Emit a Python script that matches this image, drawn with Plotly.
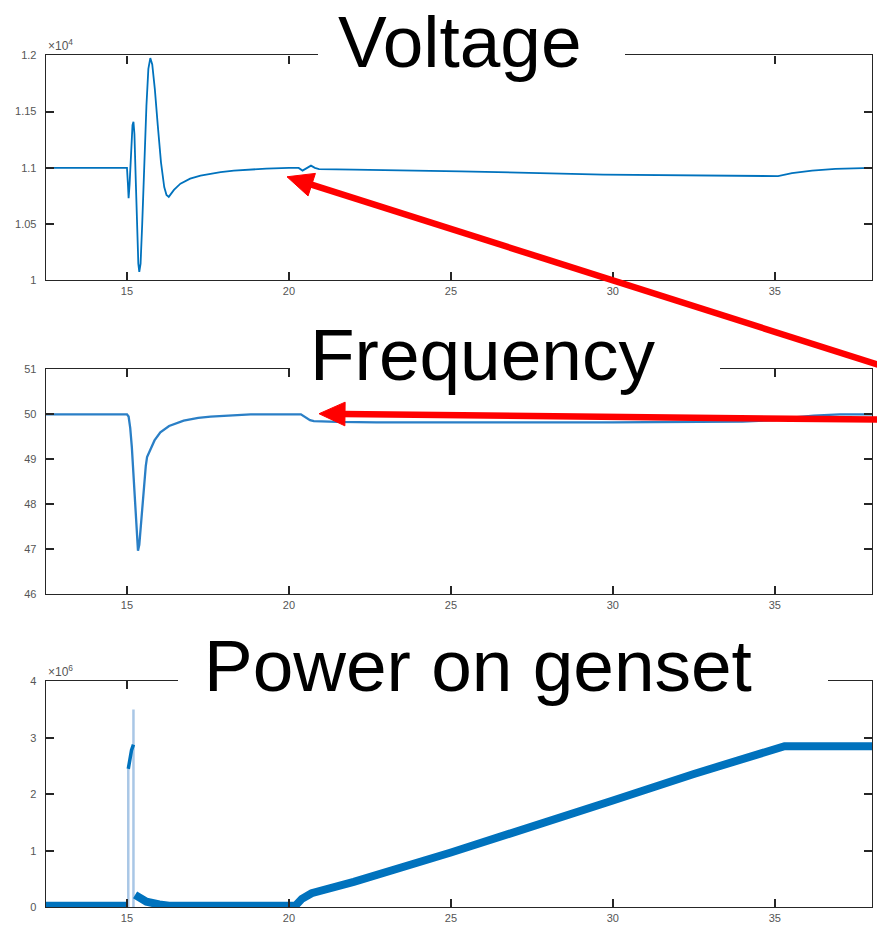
import math
import plotly.graph_objects as go

# ---------------- data ----------------
volt_t = [12.5, 15.0, 15.03, 15.05, 15.08, 15.12, 15.17, 15.2, 15.23, 15.27, 15.31, 15.35,
          15.38, 15.42, 15.47, 15.53, 15.6, 15.66, 15.72, 15.78, 15.86, 15.95, 16.05, 16.15,
          16.22, 16.29, 16.35, 16.45, 16.65, 16.95, 17.27, 17.6, 17.89, 18.3, 18.8, 19.3,
          20.0, 20.3, 20.42, 20.55, 20.68, 20.8, 20.93, 22.0, 25.3, 29.7, 31.8, 35.1, 35.53,
          36.15, 36.87, 38.0]
volt_v = [11000, 11000, 10850, 10730, 10850, 11150, 11380, 11410, 11300, 10900, 10450, 10150,
          10076, 10150, 10500, 11000, 11550, 11880, 11976, 11920, 11700, 11380, 11050, 10830,
          10760, 10743, 10765, 10805, 10860, 10905, 10932, 10950, 10962, 10975, 10986, 10994,
          11000, 11000, 10976, 11000, 11020, 11000, 10990, 10985, 10970, 10941, 10936, 10927,
          10953, 10976, 10991, 11000]

freq_t = [12.5, 15.0, 15.05, 15.1, 15.15, 15.2, 15.26, 15.3, 15.34, 15.38, 15.42, 15.46,
          15.52, 15.58, 15.62, 15.72, 15.85, 16.03, 16.3, 16.75, 17.2, 17.58, 18.2, 18.82,
          20.37, 20.5, 20.65, 20.77, 21.5, 22.7, 30.0, 34.0, 35.0, 35.6, 36.2, 37.0, 38.0]
freq_v = [50.0, 50.0, 49.95, 49.7, 49.27, 48.7, 47.81, 47.3, 46.97, 47.1, 47.45, 47.82,
          48.4, 48.85, 49.05, 49.2, 49.42, 49.6, 49.74, 49.86, 49.92, 49.95, 49.98, 50.0,
          50.0, 49.93, 49.87, 49.85, 49.83, 49.82, 49.82, 49.84, 49.87, 49.93, 49.97, 50.0, 50.0]

pow_t = [12.5, 15.0, None, 15.25, 15.4, 15.6, 16.0, 16.3,
         20.2, 20.4, 20.7, 22.0, 25.0, 27.5, 30.0, 32.5, 35.0, 35.3, 38.0]
pow_v = [0.03e6, 0.03e6, None, 0.22e6, 0.15e6, 0.1e6, 0.05e6, 0.03e6,
         0.03e6, 0.15e6, 0.25e6, 0.45e6, 0.97e6, 1.42e6, 1.89e6, 2.36e6, 2.83e6, 2.85e6, 2.85e6]

pulse_t = [15.04, 15.09, 15.14, 15.2]
pulse_v = [2.45e6, 2.65e6, 2.78e6, 2.88e6]

spike_t = [15.04, 15.04, None, 15.2, 15.2]
spike_v = [0.0, 2.45e6, None, 3.5e6, 0.0]

x_ticks = [15, 20, 25, 30, 35]
volt_ticks = [10000, 10500, 11000, 11500, 12000]
volt_ticktext = ["1", "1.05", "1.1", "1.15", "1.2"]
freq_ticks = [46, 47, 48, 49, 50, 51]
freq_ticktext = ["46", "47", "48", "49", "50", "51"]
pow_ticks = [0, 1e6, 2e6, 3e6, 4e6]
pow_ticktext = ["0", "1", "2", "3", "4"]

titles = ["Voltage", "Frequency", "Power on genset"]

# ---------------- figure ----------------
W, H = 877, 939
BLUE = "#0072BD"
AX = "#262626"
LBL = "#555555"
FONT = "Liberation Sans, Arial, sans-serif"
PAD = "\u00a0\u00a0"

fig = go.Figure()

fig.add_trace(go.Scatter(x=volt_t, y=volt_v, mode="lines", xaxis="x", yaxis="y",
                         line=dict(color=BLUE, width=1.8), showlegend=False))
fig.add_trace(go.Scatter(x=freq_t, y=freq_v, mode="lines", xaxis="x2", yaxis="y2",
                         line=dict(color="#2a7fc6", width=2.3), showlegend=False))
fig.add_trace(go.Scatter(x=spike_t, y=spike_v, mode="lines", xaxis="x3", yaxis="y3",
                         line=dict(color="#a9c7e6", width=2.5), showlegend=False))
fig.add_trace(go.Scatter(x=pulse_t, y=pulse_v, mode="lines", xaxis="x3", yaxis="y3",
                         line=dict(color=BLUE, width=3.5), showlegend=False))
fig.add_trace(go.Scatter(x=pow_t, y=pow_v, mode="lines", xaxis="x3", yaxis="y3",
                         line=dict(color=BLUE, width=8), showlegend=False))

def px_x(p):
    return p / W

def px_y(p):
    return 1 - p / H

L, R = 46, 872
boxes = [(50, 278), (368, 596), (684, 913)]

common_x = dict(range=[12.5, 38], tickmode="array", tickvals=x_ticks, ticks="inside",
                ticklen=8, tickwidth=2, tickcolor=AX, showline=True, linecolor=AX,
                linewidth=1.4, mirror="ticks", showgrid=False, zeroline=False,
                domain=[px_x(L), px_x(R)],
                tickfont=dict(family=FONT, size=11, color=LBL))
common_y = dict(tickmode="array", ticks="inside", ticklen=8, tickwidth=2, tickcolor=AX,
                showline=True, linecolor=AX, linewidth=1.4, mirror="ticks", showgrid=False,
                zeroline=False, tickfont=dict(family=FONT, size=11, color=LBL))

fig.update_layout(
    width=W, height=H, margin=dict(l=0, r=0, t=0, b=0),
    paper_bgcolor="white", plot_bgcolor="white",
    xaxis=dict(common_x, anchor="y"),
    xaxis2=dict(common_x, anchor="y2"),
    xaxis3=dict(common_x, anchor="y3"),
    yaxis=dict(common_y, anchor="x", range=[10000, 12000], tickvals=volt_ticks,
               ticktext=[t + PAD for t in volt_ticktext],
               domain=[px_y(boxes[0][1]), px_y(boxes[0][0])]),
    yaxis2=dict(common_y, anchor="x2", range=[46, 51], tickvals=freq_ticks,
                ticktext=[t + PAD for t in freq_ticktext],
                domain=[px_y(boxes[1][1]), px_y(boxes[1][0])]),
    yaxis3=dict(common_y, anchor="x3", range=[0, 4e6], tickvals=pow_ticks,
                ticktext=[t + PAD for t in pow_ticktext],
                domain=[px_y(boxes[2][1]), px_y(boxes[2][0])]),
)

shapes = []
# white gaps in top axis lines behind titles
gaps = [(318, 625), (290, 720), (178, 828)]
for (g0, g1), (top, _) in zip(gaps, boxes):
    shapes.append(dict(type="rect", xref="paper", yref="paper",
                       x0=px_x(g0), x1=px_x(g1), y0=px_y(top + 10), y1=px_y(top - 4),
                       fillcolor="white", line=dict(width=0), layer="above"))

# red arrows (drawn as line + triangular head)
RED = "#ff0000"
HEAD_LEN, HEAD_HALF, SHAFT = 26, 12, 6.5
for (hx, hy), (tx, ty) in [((287, 173), (880, 364)), ((319, 413), (880, 419))]:
    dx, dy = hx - tx, hy - ty
    ln = math.hypot(dx, dy)
    ux, uy = dx / ln, dy / ln
    bx, by = hx - HEAD_LEN * ux, hy - HEAD_LEN * uy
    nx, ny = -uy, ux
    shapes.append(dict(type="line", xref="paper", yref="paper",
                       x0=px_x(tx), y0=px_y(ty), x1=px_x(bx + 2 * ux), y1=px_y(by + 2 * uy),
                       line=dict(color=RED, width=SHAFT), layer="above"))
    c1 = (bx + HEAD_HALF * nx, by + HEAD_HALF * ny)
    c2 = (bx - HEAD_HALF * nx, by - HEAD_HALF * ny)
    path = "M {} {} L {} {} L {} {} Z".format(px_x(hx), px_y(hy), px_x(c1[0]), px_y(c1[1]),
                                              px_x(c2[0]), px_y(c2[1]))
    shapes.append(dict(type="path", xref="paper", yref="paper", path=path,
                       fillcolor=RED, line=dict(color=RED, width=1), layer="above"))
fig.update_layout(shapes=shapes)

annotations = []
title_pos = [(460, 36), (482, 353), (478, 668)]
for t, (cx, cy) in zip(titles, title_pos):
    annotations.append(dict(text=t, xref="paper", yref="paper", x=px_x(cx), y=px_y(cy),
                            xanchor="center", yanchor="middle", showarrow=False,
                            font=dict(family=FONT, size=73, color="black")))
for txt, top in [("×10<sup>4</sup>", 50), ("×10<sup>6</sup>", 684)]:
    annotations.append(dict(text=txt, xref="paper", yref="paper", x=px_x(46), y=px_y(top),
                            xanchor="left", yanchor="bottom", showarrow=False,
                            font=dict(family=FONT, size=12, color=LBL)))
fig.update_layout(annotations=annotations)

fig.write_html("out.html")
